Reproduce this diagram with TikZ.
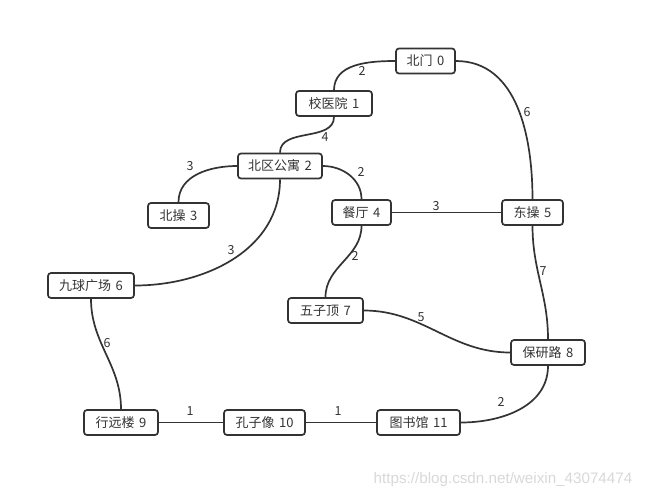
\documentclass[tikz,border=0pt]{standalone}
\usepackage{fontspec}
\newfontfamily\cjk{Noto Sans CJK SC}
\newfontfamily\wm{Liberation Sans}
\definecolor{ink}{HTML}{333333}
\definecolor{wmgray}{HTML}{D8D8D8}
\begin{document}
\begin{tikzpicture}[x=1pt,y=-1pt,
  place/.style={draw=ink,line width=1.7pt,rounded corners=3pt,fill=white,
    inner xsep=0pt,inner ysep=0pt,minimum height=25pt,text=ink,font=\cjk\fontsize{13}{15}\selectfont},
  road/.style={draw=ink,line width=1.7pt},
  wt/.style={text=ink,font=\cjk\fontsize{12.5}{14}\selectfont,inner sep=0pt}]
\useasboundingbox (0,0) rectangle (647,498);
% nodes
\node[place,minimum width=59pt] (n0) at (425.5,61) {北门\hspace{0.35em}0};
\node[place,minimum width=76pt] (n1) at (334,103.5) {校医院\hspace{0.35em}1};
\node[place,minimum width=84pt] (n2) at (280,166) {北区公寓\hspace{0.35em}2};
\node[place,minimum width=61pt] (n3) at (178.5,215.5) {北操\hspace{0.35em}3};
\node[place,minimum width=59pt] (n4) at (361.5,212.5) {餐厅\hspace{0.35em}4};
\node[place,minimum width=61pt] (n5) at (532.5,212.5) {东操\hspace{0.35em}5};
\node[place,minimum width=86pt] (n6) at (91,285.5) {九球广场\hspace{0.35em}6};
\node[place,minimum width=75pt] (n7) at (325.5,310.5) {五子顶\hspace{0.35em}7};
\node[place,minimum width=74pt] (n8) at (548,352.5) {保研路\hspace{0.35em}8};
\node[place,minimum width=74pt] (n9) at (121,422.5) {行远楼\hspace{0.35em}9};
\node[place,minimum width=81pt] (n10) at (264.5,422.5) {孔子像\hspace{0.35em}10};
\node[place,minimum width=83pt] (n11) at (418.5,422.5) {图书馆\hspace{0.35em}11};
% roads
\draw[road] (n0.west) to[out=180,in=90] (n1.north);
\draw[road] (n1.south) to[out=-90,in=90] (n2.north);
\draw[road] (n2.west) to[out=180,in=90] (n3.north);
\draw[road] (n2.east) to[out=0,in=90] (n4.north);
\draw[road] (n2.south) to[out=-90,in=0] (n6.east);
\draw[road] (n0.east) to[out=0,in=90] (n5.north);
\draw[road] (n4.east) -- (n5.west);
\draw[road] (n4.south) to[out=-90,in=90] (n7.north);
\draw[road] (n5.south) to[out=-90,in=90] (n8.north);
\draw[road] (n7.east) to[out=0,in=180] (n8.west);
\draw[road] (n6.south) to[out=-90,in=90] (n9.north);
\draw[road] (n9.east) -- (n10.west);
\draw[road] (n10.east) -- (n11.west);
\draw[road] (n8.south) to[out=-90,in=0] (n11.east);
% weights
\node[wt] (w01) at (362,71) {2};
\node[wt] (w12) at (325,137) {4};
\node[wt] (w23) at (190,166) {3};
\node[wt] (w24) at (361,172) {2};
\node[wt] (w26) at (231,250) {3};
\node[wt] (w05) at (527,112) {6};
\node[wt] (w45) at (436,206) {3};
\node[wt] (w47) at (355,256) {2};
\node[wt] (w58) at (543,271) {7};
\node[wt] (w78) at (421,317) {5};
\node[wt] (w69) at (107,343) {6};
\node[wt] (w910) at (190,411) {1};
\node[wt] (w1011) at (338,411) {1};
\node[wt] (w811) at (501,402) {2};
% watermark
\node[text=wmgray,font=\wm\fontsize{15.2}{17}\selectfont,inner sep=0pt] (wmk) at (503,480) {https://blog.csdn.net/weixin\_43074474};
\end{tikzpicture}
\end{document}
